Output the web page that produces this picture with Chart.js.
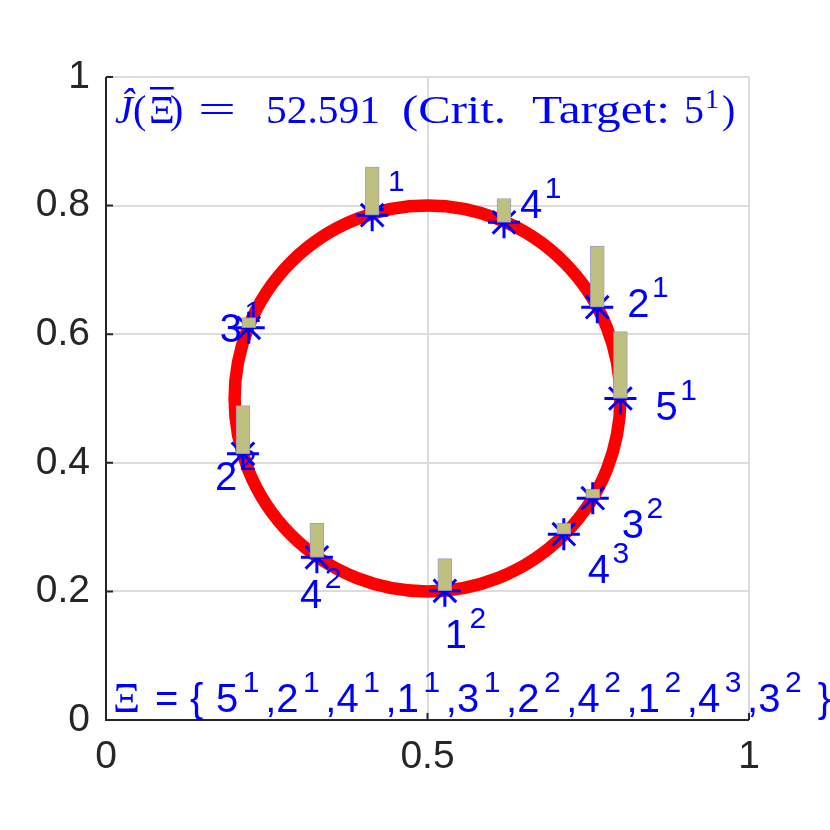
<!DOCTYPE html>
<html>
<head>
<meta charset="utf-8">
<script src="https://cdn.jsdelivr.net/npm/chart.js@4.4.1/dist/chart.umd.min.js"></script>
<style>
  html, body { margin: 0; padding: 0; background: #fff; }
  #wrap { width: 830px; height: 830px; }
</style>
</head>
<body>
<div id="wrap"><canvas id="myChart" width="830" height="830"></canvas></div>
<script>
// sequence Xi: base number and superscript of each point, in order
const labelBase = ['5', '2', '4', '1', '3', '2', '4', '1', '4', '3']
const labelSup = ['1', '1', '1', '1', '1', '2', '2', '2', '3', '2']
const pointX = [0.8, 0.764, 0.619, 0.414, 0.222, 0.213, 0.328, 0.527, 0.712, 0.757]
const pointY = [0.5, 0.642, 0.774, 0.785, 0.61, 0.414, 0.253, 0.201, 0.289, 0.345]
const barHeight = [0.104, 0.095, 0.037, 0.075, 0.016, 0.075, 0.053, 0.05, 0.017, 0.014]
const circleCenter = [0.5, 0.5]
const circleRadius = 0.3
const xTicks = [0, 0.5, 1]
const yTicks = [0, 0.2, 0.4, 0.6, 0.8, 1]
const criterion = '52.591'
const critTarget = ['5', '1']

// where each point label sits, px from its marker (left, baseline)
const labelOffset = [[35, 21], [30, 10], [16, -4], [-9, -4], [-29, 14], [-28, 36], [-17, 51], [0, 57], [24, 49], [29, 40]]

const SANS = '"Liberation Sans", Arial, Helvetica, sans-serif'
const SERIF = '"Liberation Serif", "Times New Roman", serif'
const BLUE = '#0000ff'
const AXIS = '#262626'

function drawSup(ctx, x, y, base, sup, gap) {
  ctx.font = '40px ' + SANS
  ctx.fillText(base, x, y)
  const w = ctx.measureText(base).width
  ctx.font = '30px ' + SANS
  ctx.fillText(sup, x + w + gap, y - 20)
  return w + gap + ctx.measureText(sup).width
}

// draw text starting at x, optionally stretched to a width
function drawPiece(ctx, text, font, x, y, width) {
  ctx.font = font
  const w = ctx.measureText(text).width
  ctx.save()
  ctx.translate(x, y)
  if (width) ctx.scale(width / w, 1)
  ctx.fillText(text, 0, 0)
  ctx.restore()
  return width || w
}

const circlePlugin = {
  id: 'circle',
  beforeDatasetsDraw(chart) {
    const { ctx, scales: { x, y } } = chart
    const cx = x.getPixelForValue(circleCenter[0])
    const cy = y.getPixelForValue(circleCenter[1])
    const r = x.getPixelForValue(circleCenter[0] + circleRadius) - cx
    ctx.save()
    ctx.strokeStyle = '#ff0000'
    ctx.lineWidth = 12.5
    ctx.beginPath()
    ctx.arc(cx, cy, r, 0, Math.PI * 2)
    ctx.stroke()

    // point labels sit under markers and bars
    ctx.fillStyle = BLUE
    ctx.textAlign = 'left'
    ctx.textBaseline = 'alphabetic'
    pointX.forEach((v, i) => {
      const px = x.getPixelForValue(v) + labelOffset[i][0]
      const py = y.getPixelForValue(pointY[i]) + labelOffset[i][1]
      drawSup(ctx, px, py, labelBase[i], labelSup[i], 2.5)
    })
    ctx.restore()
  },
}

const axesPlugin = {
  id: 'axesText',
  afterDraw(chart) {
    const { ctx, chartArea: a, scales: { x, y } } = chart
    ctx.save()
    // axis lines with inward ticks
    ctx.strokeStyle = AXIS
    ctx.lineWidth = 2
    ctx.beginPath()
    ctx.moveTo(a.left, a.top)
    ctx.lineTo(a.left, a.bottom)
    ctx.lineTo(a.right, a.bottom)
    yTicks.forEach(v => {
      const py = y.getPixelForValue(v)
      ctx.moveTo(a.left, py)
      ctx.lineTo(a.left + 7, py)
    })
    xTicks.forEach(v => {
      const px = x.getPixelForValue(v)
      ctx.moveTo(px, a.bottom)
      ctx.lineTo(px, a.bottom - 7)
    })
    ctx.stroke()

    ctx.fillStyle = BLUE
    ctx.textAlign = 'left'
    ctx.textBaseline = 'alphabetic'

    // title inside the axes
    const f = '40px ' + SERIF
    const tb = a.top + 46
    drawPiece(ctx, '\u0134', 'italic ' + f, 115, tb)
    drawPiece(ctx, '(', f, 133, tb)
    const xw = drawPiece(ctx, '\u039E', f, 149, tb)
    ctx.fillRect(150, tb - 36, xw - 2, 2.5)
    drawPiece(ctx, ')', f, 170, tb)
    drawPiece(ctx, '=', f, 198, tb, 38)
    drawPiece(ctx, criterion, f, 266, tb, 114)
    drawPiece(ctx, '(Crit.', f, 402, tb, 104)
    drawPiece(ctx, 'Target:', f, 532, tb, 138)
    drawPiece(ctx, critTarget[0], f, 684, tb)
    drawPiece(ctx, critTarget[1], '28px ' + SERIF, 705, tb - 15)
    drawPiece(ctx, ')', f, 722, tb)

    // the sequence, along the bottom of the axes
    const bb = a.bottom - 8
    ctx.font = '42px ' + SERIF
    ctx.fillText('\u039E', a.left + 7, bb)
    ctx.font = '40px ' + SANS
    ctx.fillText('=', 155, bb)
    ctx.fillText('{', 190, bb)
    let bx = 216
    labelBase.forEach((b, i) => {
      bx += drawSup(ctx, bx, bb, b, labelSup[i], 4.5)
      ctx.font = '40px ' + SANS
      if (i < labelBase.length - 1) {
        bx += 5.7
        ctx.fillText(',', bx, bb)
        bx += ctx.measureText(',').width
      }
    })
    ctx.font = '40px ' + SANS
    ctx.fillText('}', bx + 16, bb)
    ctx.restore()
  },
}

const chartConfig = {
  type: 'scatter',
  data: {
    datasets: [
      {
        type: 'bar',
        data: pointX.map((v, i) => ({ x: v, y: [pointY[i], pointY[i] + barHeight[i]] })),
        backgroundColor: 'rgb(191,191,128)',
        borderColor: 'rgba(150,150,200,0.9)',
        borderWidth: 1,
        borderSkipped: false,
        barThickness: 14,
        order: 0,
      },
      {
        type: 'scatter',
        data: pointX.map((v, i) => ({ x: v, y: pointY[i] })),
        pointStyle: 'star',
        pointRadius: 16,
        pointBorderWidth: 3,
        pointBorderColor: BLUE,
        pointBackgroundColor: BLUE,
        order: 1,
      },
    ],
  },
  options: {
    responsive: false,
    animation: false,
    devicePixelRatio: 1,
    layout: { padding: { top: 77, right: 81, left: 0, bottom: 0 } },
    plugins: { legend: { display: false }, tooltip: { enabled: false } },
    scales: {
      x: {
        type: 'linear',
        min: 0,
        max: 1,
        offset: false,
        afterBuildTicks: s => { s.ticks = xTicks.map(v => ({ value: v })) },
        afterFit: s => { s.height = 110 },
        grid: { color: '#dcdcdc', lineWidth: 2, drawTicks: false, offset: false },
        border: { display: false },
        ticks: {
          color: AXIS,
          font: { family: SANS, size: 39 },
          padding: 14,
          maxRotation: 0,
          callback: v => String(v),
        },
      },
      y: {
        type: 'linear',
        min: 0,
        max: 1,
        afterBuildTicks: s => { s.ticks = yTicks.map(v => ({ value: v })) },
        afterFit: s => { s.width = 106 },
        grid: { color: '#dcdcdc', lineWidth: 2, drawTicks: false },
        border: { display: false },
        ticks: {
          color: AXIS,
          font: { family: SANS, size: 39 },
          padding: 16,
          callback: v => String(v),
        },
      },
    },
  },
  plugins: [circlePlugin, axesPlugin],
}

const ctx = document.getElementById('myChart').getContext('2d')
const chart = new Chart(ctx, chartConfig)
</script>
</body>
</html>
